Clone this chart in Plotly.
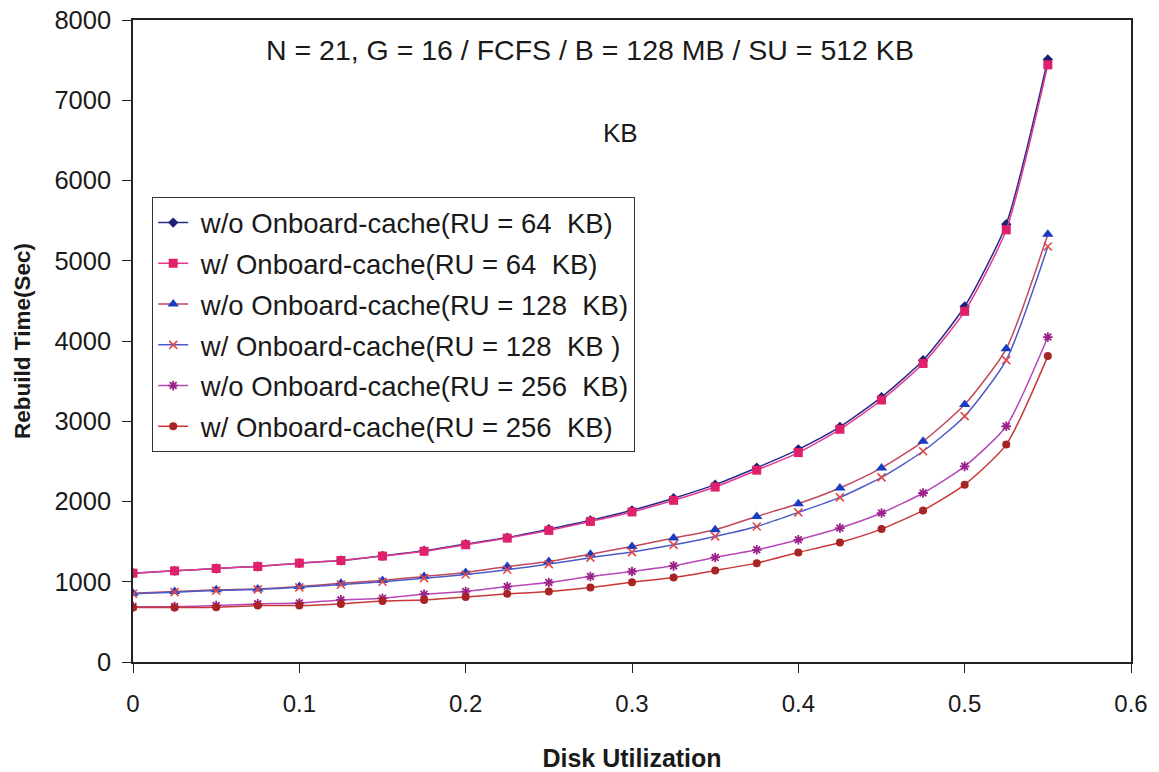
import plotly.graph_objects as go

utilization = [0, 0.025, 0.05, 0.075, 0.1, 0.125, 0.15, 0.175, 0.2, 0.225, 0.25, 0.275,
               0.3, 0.325, 0.35, 0.375, 0.4, 0.425, 0.45, 0.475, 0.5, 0.525, 0.55]

wo_cache_64 = [1107, 1136, 1165, 1190, 1232, 1265, 1323, 1386, 1469, 1550, 1655, 1765,
               1890, 2040, 2210, 2420, 2650, 2930, 3300, 3760, 4430, 5456, 7508]
w_cache_64 = [1107, 1136, 1165, 1190, 1232, 1265, 1320, 1380, 1461, 1544, 1640, 1752,
              1870, 2015, 2180, 2390, 2610, 2900, 3265, 3720, 4370, 5385, 7441]
wo_cache_128 = [857, 878, 899, 911, 940, 982, 1015, 1065, 1115, 1190, 1252, 1344,
                1440, 1544, 1648, 1814, 1973, 2168, 2418, 2750, 3208, 3903, 5331]
w_cache_128 = [850, 870, 890, 905, 930, 965, 1000, 1045, 1090, 1150, 1220, 1300,
               1370, 1460, 1565, 1689, 1864, 2052, 2301, 2626, 3063, 3762, 5177]
wo_cache_256 = [690, 690, 703, 724, 735, 774, 795, 845, 878, 940, 990, 1065,
                1128, 1198, 1303, 1398, 1523, 1669, 1856, 2106, 2438, 2938, 4049]
w_cache_256 = [678, 678, 682, 703, 703, 724, 761, 774, 810, 849, 878, 928,
               995, 1053, 1140, 1232, 1365, 1490, 1656, 1889, 2210, 2709, 3812]

series_names = [
    "w/o Onboard-cache(RU = 64\u00a0 KB)",
    "w/ Onboard-cache(RU = 64\u00a0 KB)",
    "w/o Onboard-cache(RU = 128\u00a0 KB)",
    "w/ Onboard-cache(RU = 128\u00a0 KB\u00a0)",
    "w/o Onboard-cache(RU = 256\u00a0 KB)",
    "w/ Onboard-cache(RU = 256\u00a0 KB)",
]
x_ticks = [0, 0.1, 0.2, 0.3, 0.4, 0.5, 0.6]
y_ticks = [0, 1000, 2000, 3000, 4000, 5000, 6000, 7000, 8000]

styles = [
    dict(line="#2A2A8A", marker=dict(symbol="diamond", size=8, color="#1C2270")),
    dict(line="#E23A90", marker=dict(symbol="square", size=9, color="#E0206A")),
    dict(line="#C04858", marker=dict(symbol="triangle-up", size=10, color="#1A3CC0")),
    dict(line="#4A5AC8", marker=dict(symbol="x-thin", size=8, color="#E04848",
                                       line=dict(width=1.6, color="#E04848"))),
    dict(line="#B848B8", marker=dict(symbol="asterisk", size=8, color="#9A2288",
                                       line=dict(width=1.8, color="#9A2288"))),
    dict(line="#C83838", marker=dict(symbol="circle", size=8, color="#A82424")),
]

all_series = [wo_cache_64, w_cache_64, wo_cache_128, w_cache_128, wo_cache_256, w_cache_256]

fig = go.Figure()
for i, (name, ys, st) in enumerate(zip(series_names, all_series, styles)):
    fig.add_trace(go.Scatter(
        x=utilization, y=ys, name="\u00a0" + name, mode="lines+markers",
        line=dict(color=st["line"], width=1.5, shape="spline", smoothing=0.6),
        marker=st["marker"], legendgroup=f"g{i}",
    ))

font_main = "Liberation Sans, Arial, sans-serif"
# the page body margin is removed (see post_script), so figure pixels = page pixels
W, H = 1159, 772
L, R, T, B = 133, 28, 20, 110
pw, ph = W - L - R, H - T - B


def px_to_paper(px, py):
    return (px - L) / pw, (H - B - py) / ph


title_x, title_y = px_to_paper(590, 50)
kb_x, kb_y = px_to_paper(620, 133)
leg_x, leg_y = px_to_paper(152, 197)

fig.update_layout(
    width=W, height=H,
    margin=dict(l=L, r=R, t=T, b=B, autoexpand=False),
    paper_bgcolor="white", plot_bgcolor="white",
    font=dict(family=font_main, color="#1a1a1a", size=22),
    showlegend=True,
    legend=dict(
        x=leg_x, y=leg_y, xanchor="left", yanchor="top",
        bgcolor="white", bordercolor="#333333", borderwidth=1.2,
        font=dict(size=27.5, family=font_main, color="#1a1a1a"),
        tracegroupgap=2, itemwidth=30,
    ),
    xaxis=dict(
        range=[0, 0.6], tickvals=x_ticks, ticktext=[str(v) for v in x_ticks],
        showline=True, linecolor="#222222", linewidth=1.5, mirror=True,
        ticks="outside", ticklen=9, tickcolor="#222222", showgrid=False, zeroline=False,
        tickfont=dict(size=24), automargin=False, ticklabeloverflow="allow",
        ticklabelstandoff=10,
        title=dict(text="<b>Disk Utilization</b>", standoff=36, font=dict(size=25)),
    ),
    yaxis=dict(
        range=[0, 8000], tickvals=y_ticks,
        showline=True, linecolor="#222222", linewidth=1.5, mirror=True,
        ticks="outside", ticklen=9, tickcolor="#222222", showgrid=False, zeroline=False,
        tickfont=dict(size=25.5), ticklabelstandoff=6, automargin=False,
        ticklabeloverflow="allow",
        title=dict(text="<b>Rebuild Time(Sec)</b>", standoff=18, font=dict(size=22.5)),
    ),
    annotations=[
        dict(text="N = 21, G = 16 / FCFS / B = 128 MB / SU = 512 KB", x=title_x, y=title_y,
             xref="paper", yref="paper", xanchor="center", yanchor="middle",
             showarrow=False, font=dict(size=28.5)),
        dict(text="KB", x=kb_x, y=kb_y, xref="paper", yref="paper",
             xanchor="center", yanchor="middle", showarrow=False, font=dict(size=26)),
    ],
)

fig.write_html("out.html", config={"displayModeBar": False},
               post_script="document.body.style.margin='0';")
